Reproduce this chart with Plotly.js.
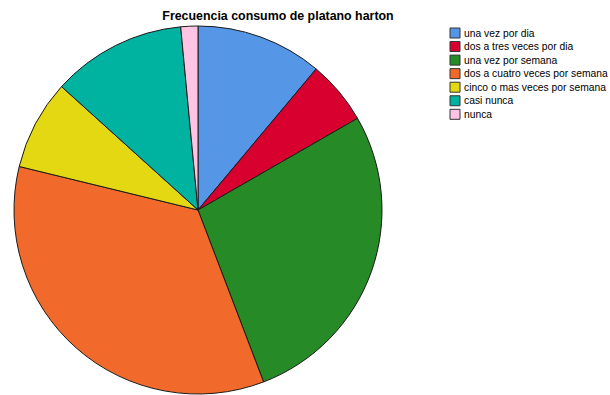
<!DOCTYPE html>
<html>
<head>
<meta charset="utf-8">
<script src="https://cdn.plot.ly/plotly-3.0.1.min.js"></script>
<style>html,body{margin:0;padding:0;background:#fff;}#chart{width:610px;height:395px;}</style>
</head>
<body>
<div id="chart"></div>
<script>
const categories = ["una vez por dia", "dos a tres veces por dia", "una vez por semana", "dos a cuatro veces por semana", "cinco o mas veces por semana", "casi nunca", "nunca"];
const percents = [11.1, 5.6, 27.5, 34.6, 7.9, 11.8, 1.5];
const colors = ["#5596e6", "#d8002f", "#268a26", "#f26a2b", "#e4d812", "#00b3a0", "#ffc4e4"];

const W = 610, H = 395;
const FONT = "Liberation Sans, Arial, sans-serif";

const data = [{
  type: "pie",
  labels: categories,
  values: percents,
  sort: false,
  direction: "clockwise",
  rotation: 0,
  textinfo: "none",
  hoverinfo: "label+percent",
  showlegend: false,
  marker: {colors: colors, line: {color: "#1a1a1a", width: 1}},
  domain: {x: [14 / W, 382 / W], y: [1 - 394 / H, 1 - 26 / H]}
}];

// Legend drawn manually (compact SPSS-style rows)
const legX0 = 450, legTop = 28, legStep = 13.55, sq = 10;
const shapes = [], annotations = [];
categories.forEach((c, i) => {
  const top = legTop + legStep * i;
  shapes.push({
    type: "rect", xref: "paper", yref: "paper",
    x0: legX0 / W, x1: (legX0 + sq) / W,
    y0: 1 - (top + sq) / H, y1: 1 - top / H,
    fillcolor: colors[i], line: {color: "#333", width: 1}
  });
  annotations.push({
    xref: "paper", yref: "paper",
    x: 462 / W, y: 1 - (top + sq / 2) / H,
    xanchor: "left", yanchor: "middle",
    text: c, showarrow: false,
    font: {size: 10.3, family: FONT, color: "#000"}
  });
});

const layout = {
  width: W, height: H,
  margin: {l: 0, r: 0, t: 0, b: 0},
  paper_bgcolor: "#ffffff",
  font: {family: FONT, color: "#000"},
  title: {
    text: "<b>Frecuencia consumo de platano harton</b>",
    font: {size: 12.4, family: FONT, color: "#000"},
    x: 278 / W, xanchor: "center",
    y: 1 - 16 / H, yanchor: "middle"
  },
  showlegend: false,
  shapes: shapes,
  annotations: annotations
};

Plotly.newPlot("chart", data, layout, {displayModeBar: false, staticPlot: true});
</script>
</body>
</html>
